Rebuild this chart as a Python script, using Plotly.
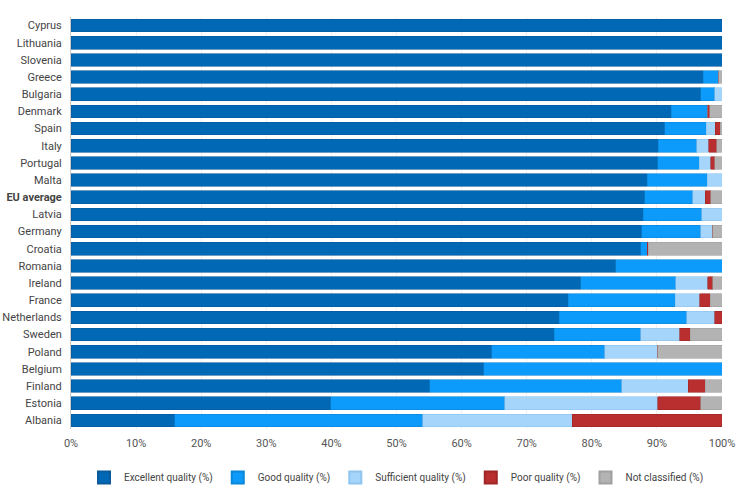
import plotly.graph_objects as go

countries = ["Cyprus", "Lithuania", "Slovenia", "Greece", "Bulgaria", "Denmark", "Spain",
             "Italy", "Portugal", "Malta", "EU average", "Latvia", "Germany", "Croatia",
             "Romania", "Ireland", "France", "Netherlands", "Sweden", "Poland", "Belgium",
             "Finland", "Estonia", "Albania"]
excellent = [100, 100, 100, 97.1, 96.7, 92.2, 91.2, 90.2, 90.1, 88.5, 88.1, 87.9, 87.7, 87.5,
             83.7, 78.3, 76.4, 75.0, 74.2, 64.6, 63.4, 55.1, 39.9, 15.9]
good = [0, 0, 0, 2.4, 2.2, 5.6, 6.4, 5.9, 6.4, 9.2, 7.4, 9.0, 9.0, 1.0,
        16.3, 14.6, 16.4, 19.6, 13.3, 17.4, 36.6, 29.5, 26.7, 38.1]
sufficient = [0, 0, 0, 0, 1.1, 0, 1.4, 1.9, 1.8, 2.3, 1.9, 3.1, 1.9, 0,
              0, 4.9, 3.8, 4.3, 6.0, 8.1, 0, 10.2, 23.5, 23.0]
poor = [0, 0, 0, 0, 0, 0.3, 0.7, 1.2, 0.6, 0, 0.9, 0, 0, 0.2,
        0, 0.8, 1.6, 1.1, 1.6, 0, 0, 2.6, 6.6, 23.0]
not_classified = [0, 0, 0, 0.5, 0, 1.9, 0.3, 0.8, 1.1, 0, 1.7, 0, 1.4, 11.3,
                  0, 1.4, 1.8, 0, 4.9, 9.9, 0, 2.6, 3.3, 0]
x_ticks = [0, 10, 20, 30, 40, 50, 60, 70, 80, 90, 100]

series = [
    ("Excellent quality (%)", excellent, "#0068b5", "#0a5a9c"),
    ("Good quality (%)", good, "#0c9bfb", "#0a86d8"),
    ("Sufficient quality (%)", sufficient, "#a5d5fb", "#8fc4ee"),
    ("Poor quality (%)", poor, "#b92f2f", "#9e2626"),
    ("Not classified (%)", not_classified, "#b3b3b3", "#a0a0a0"),
]

fig = go.Figure()
for name, vals, col, lc in series:
    fig.add_trace(go.Bar(
        y=countries, x=vals, name=name, orientation="h",
        marker=dict(color=col, line=dict(color=lc, width=0.6)),
    ))

ticktext = ["<b>EU average</b>" if c == "EU average" else c for c in countries]

fig.update_layout(
    barmode="stack",
    width=750, height=500,
    margin=dict(l=71, r=28, t=17, b=71),
    paper_bgcolor="white", plot_bgcolor="white",
    font=dict(family="Roboto", size=11, color="#444444"),
    bargap=0.26,
    showlegend=True,
    legend=dict(orientation="h", x=0.5, xanchor="center",
                yref="container", y=0.074, yanchor="top",
                font=dict(family="Roboto", size=10, color="#444444"),
                traceorder="normal", itemsizing="constant", itemwidth=30),
    xaxis=dict(range=[0, 100], tickvals=x_ticks, ticktext=[f"{v}%" for v in x_ticks],
               showgrid=True, gridcolor="#f0f0f0", gridwidth=1, zeroline=False,
               showline=False, ticks="", automargin=False, ticklabelstandoff=6,
               tickfont=dict(size=11, color="#555555")),
    yaxis=dict(categoryorder="array", categoryarray=countries, autorange="reversed",
               tickvals=countries, ticktext=ticktext, showline=True, linecolor="#cccccc",
               linewidth=1, ticks="", ticklabelstandoff=6, automargin=False,
               tickfont=dict(size=11, color="#444444")),
)
fig.write_html("out.html", config={"displayModeBar": False},
               post_script="document.body.style.margin='0px';")
